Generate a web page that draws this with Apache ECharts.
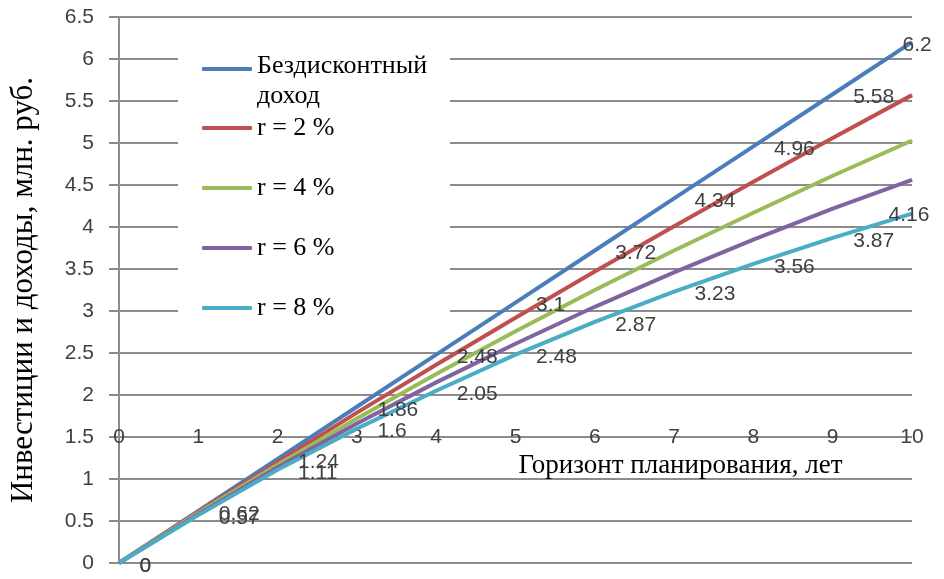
<!DOCTYPE html>
<html>
<head>
<meta charset="utf-8">
<script src="https://cdn.jsdelivr.net/npm/echarts@6/dist/echarts.min.js"></script>
<style>
html,body{margin:0;padding:0;background:#fff;}
#c{width:944px;height:579px;}
</style>
</head>
<body>
<div id="c"></div>
<script>
const years = [0, 1, 2, 3, 4, 5, 6, 7, 8, 9, 10];
const seriesNames = ['Бездисконтный доход', 'r = 2 %', 'r = 4 %', 'r = 6 %', 'r = 8 %'];
const noDiscount = [0, 0.62, 1.24, 1.86, 2.48, 3.1, 3.72, 4.34, 4.96, 5.58, 6.2];
const rate2 = [0, 0.61, 1.20, 1.79, 2.36, 2.92, 3.47, 4.01, 4.54, 5.06, 5.57];
const rate4 = [0, 0.60, 1.17, 1.72, 2.25, 2.76, 3.25, 3.72, 4.17, 4.61, 5.03];
const rate6 = [0, 0.58, 1.14, 1.66, 2.15, 2.61, 3.05, 3.46, 3.85, 4.22, 4.56];
const rate8 = [0, 0.57, 1.11, 1.60, 2.05, 2.48, 2.87, 3.23, 3.56, 3.87, 4.16];
const xAxisTitle = 'Горизонт планирования, лет';
const yAxisTitle = 'Инвестиции и доходы, млн. руб.';

const colors = ['#4A7EBB', '#C0504D', '#9BBB59', '#8064A2', '#4BACC6'];
const sansFont = 'Liberation Sans';
const serifFont = 'Liberation Serif';
const gridColor = '#8C8C8C';
const labelColor = '#404040';

function pts(vals, lastOffset) {
  return years.map((x, i) => {
    const item = { value: [x, vals[i]] };
    if (lastOffset && i === years.length - 1) {
      item.label = { offset: lastOffset };
    }
    return item;
  });
}

function makeSeries(idx, vals, withLabels, lastOffset) {
  return {
    name: seriesNames[idx],
    type: 'line',
    data: pts(vals, withLabels ? lastOffset : null),
    symbol: 'circle',
    symbolSize: 1,
    color: colors[idx],
    lineStyle: { width: 4, color: colors[idx] },
    itemStyle: { color: colors[idx] },
    emphasis: { disabled: true },
    label: {
      show: withLabels,
      position: 'right',
      distance: 20,
      offset: [0, 3],
      fontFamily: sansFont,
      fontSize: 21,
      color: labelColor,
      formatter: p => String(p.value[1])
    },
    animation: false
  };
}

const chart = echarts.init(document.getElementById('c'), null, { renderer: 'canvas' });
chart.setOption({
  animation: false,
  backgroundColor: '#fff',
  grid: { left: 118, right: 32, top: 17, bottom: 16, containLabel: false },
  xAxis: {
    type: 'value',
    min: 0, max: 10, interval: 1,
    offset: -126,
    axisLine: { show: false },
    axisTick: { show: false },
    splitLine: { show: false },
    axisLabel: { margin: -10, fontFamily: sansFont, fontSize: 21, color: labelColor },
    name: xAxisTitle,
    nameLocation: 'middle',
    nameGap: 0,
    nameTextStyle: { fontFamily: serifFont, fontSize: 27, color: '#000', padding: [0, 0, 0, 330] }
  },
  yAxis: {
    type: 'value',
    min: 0, max: 6.5, interval: 0.5,
    axisLine: { show: true, lineStyle: { color: gridColor, width: 2 } },
    axisTick: { show: true, inside: false, length: 10, lineStyle: { color: gridColor, width: 2 } },
    splitLine: { show: true, lineStyle: { color: gridColor, width: 2 } },
    axisLabel: { margin: 25, fontFamily: sansFont, fontSize: 21, color: labelColor },
    name: yAxisTitle,
    nameLocation: 'middle',
    nameRotate: 90,
    nameGap: 80,
    nameTextStyle: { fontFamily: serifFont, fontSize: 31, color: '#000' }
  },
  graphic: {
    elements: [{
      type: 'rect', z: 3, silent: true,
      shape: { x: 178, y: 40, width: 272, height: 312 },
      style: { fill: '#fff' }
    }]
  },
  legend: [
    {
      data: [seriesNames[0]],
      orient: 'vertical',
      left: 202, top: 27,
      padding: 0,
      icon: 'roundRect',
      itemWidth: 50, itemHeight: 4,
      selectedMode: false,
      formatter: () => '{e| }\nБездисконтный\nдоход',
      textStyle: {
        fontFamily: serifFont, fontSize: 26, lineHeight: 30, color: '#000',
        rich: { e: { fontSize: 10, lineHeight: 24 } }
      }
    },
    {
      data: seriesNames.slice(1),
      orient: 'vertical',
      left: 202, top: 113,
      padding: 0,
      itemGap: 30,
      icon: 'roundRect',
      itemWidth: 50, itemHeight: 4,
      selectedMode: false,
      textStyle: { fontFamily: serifFont, fontSize: 26, lineHeight: 30, color: '#000' }
    }
  ],
  series: [
    makeSeries(0, noDiscount, true, [-30, 3]),
    makeSeries(1, rate2, false),
    makeSeries(2, rate4, false),
    makeSeries(3, rate6, false),
    makeSeries(4, rate8, true, [-44, 2])
  ]
});
</script>
</body>
</html>
